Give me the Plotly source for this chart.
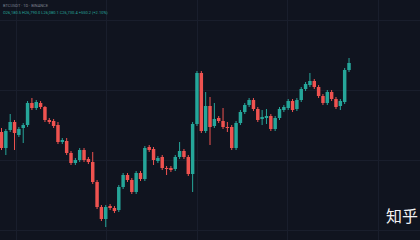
import plotly.graph_objects as go

# OHLC values (arbitrary price units)
open_ = [108, 92, 110, 118, 105, 112, 115, 137, 132, 137, 133, 120, 119, 115, 98, 99, 87, 77, 80, 90,
         81, 78, 58, 33, 21, 34, 32, 30, 53, 65, 60, 48, 67, 61, 93, 91, 79, 83, 72, 72,
         71, 83, 89, 83, 66, 116, 167, 109, 134, 114, 122, 119, 113, 113, 92, 117, 128, 135, 140, 131,
         121, 122, 124, 111, 122, 130, 132, 139, 131, 140, 151, 155, 159, 153, 144, 137, 148, 141, 134, 138, 170]
high = [112, 111, 126, 120, 113, 117, 139, 142, 140, 139, 134, 122, 121, 118, 102, 102, 89, 82, 92, 92,
        83, 88, 60, 35, 35, 36, 34, 55, 67, 67, 62, 69, 69, 94, 95, 93, 84, 85, 74, 74,
        85, 98, 91, 85, 118, 169, 169, 148, 143, 137, 124, 132, 118, 115, 119, 130, 137, 142, 142, 133,
        130, 131, 126, 124, 133, 135, 141, 141, 142, 153, 158, 167, 161, 155, 146, 150, 150, 143, 141, 172, 182]
low = [90, 85, 108, 90, 103, 97, 113, 130, 130, 131, 118, 116, 112, 96, 96, 85, 75, 75, 78, 78,
       76, 56, 31, 19, 13, 30, 27, 28, 51, 58, 46, 46, 59, 59, 88, 75, 77, 70, 65, 68,
       69, 81, 81, 64, 48, 114, 107, 107, 95, 112, 117, 111, 108, 90, 90, 115, 126, 133, 129, 118,
       115, 116, 109, 109, 120, 128, 130, 128, 129, 138, 149, 153, 151, 142, 135, 135, 139, 131, 130, 136, 168]
close = [92, 109, 118, 107, 111, 115, 137, 132, 138, 133, 120, 118, 114, 98, 100, 87, 77, 80, 90, 80,
         78, 58, 33, 21, 33, 32, 29, 53, 65, 60, 48, 67, 61, 92, 90, 80, 82, 72, 71, 70,
         83, 89, 83, 66, 116, 167, 109, 134, 113, 121, 119, 113, 112, 92, 117, 128, 135, 140, 131, 120,
         123, 124, 111, 122, 131, 133, 139, 130, 140, 151, 156, 159, 153, 144, 137, 148, 141, 133, 139, 170, 177]
bars = list(range(len(close)))

title_line = "BTCUSDT · 1D · BINANCE"
ohlc_line = "O26,180.5 H26,790.0 L26,080.1 C26,730.4 +550.2 (+2.10%)"
watermark = "知乎"

GREEN = "#26a69a"
RED = "#ef5350"
BG = "#10141f"
GRID = "#191e2c"

fig = go.Figure()

for up, color in ((True, GREEN), (False, RED)):
    idx = [i for i in bars if (close[i] >= open_[i]) == up]
    # wicks
    wx, wy = [], []
    for i in idx:
        wx += [bars[i], bars[i], None]
        wy += [low[i], high[i], None]
    fig.add_trace(go.Scatter(x=wx, y=wy, mode="lines", line=dict(color=color, width=1),
                             hoverinfo="skip", showlegend=False))
    # bodies
    fig.add_trace(go.Bar(
        x=[bars[i] for i in idx],
        base=[min(open_[i], close[i]) for i in idx],
        y=[max(abs(close[i] - open_[i]), 1) for i in idx],
        width=0.8, marker=dict(color=color, line=dict(width=0)),
        hoverinfo="skip", showlegend=False,
    ))

fig.update_layout(
    width=420, height=240,
    margin=dict(l=0, r=0, t=0, b=0),
    paper_bgcolor=BG, plot_bgcolor=BG,
    showlegend=False, barmode="overlay",
    xaxis=dict(range=[-0.345, 96.34], showticklabels=False,
               showgrid=True, gridcolor=GRID, gridwidth=1, tick0=3.4, dtick=20.84,
               zeroline=False, fixedrange=True),
    yaxis=dict(range=[0, 240], showticklabels=False, showgrid=True, gridcolor=GRID,
               gridwidth=1, tick0=10, dtick=70, zeroline=False, fixedrange=True),
    annotations=[
        dict(text=title_line, x=0.003, y=0.997, xref="paper", yref="paper", xanchor="left",
             yanchor="top", showarrow=False, font=dict(size=4, color="#7d8290", family="Roboto")),
        dict(text=ohlc_line, x=0.003, y=0.965, xref="paper", yref="paper", xanchor="left",
             yanchor="top", showarrow=False, font=dict(size=4, color=GREEN, family="Roboto")),
        dict(text=watermark, x=1.0, y=25, xref="paper", yref="y", xanchor="right",
             yanchor="middle", showarrow=False,
             font=dict(size=16, color="#f2f2f2", family="Noto Sans CJK SC")),
    ],
)

fig.write_html("out.html", config={"displayModeBar": False})
